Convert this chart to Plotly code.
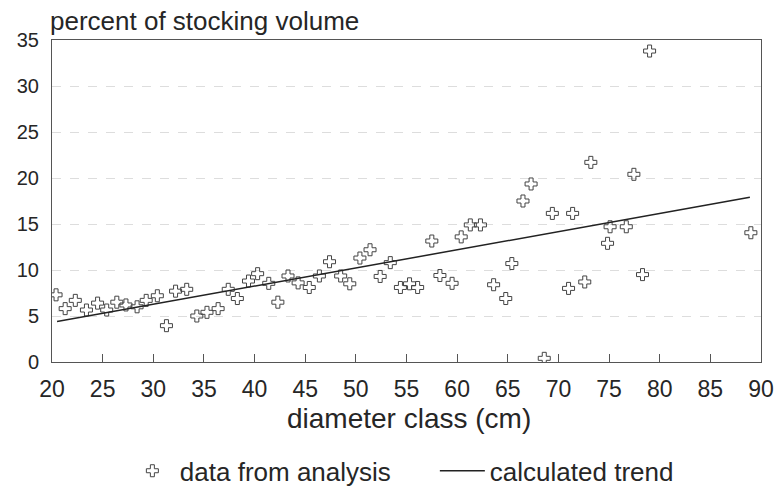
import plotly.graph_objects as go

# data
diameter = [20.4, 21.3, 22.3, 23.4, 24.5, 25.4, 26.4, 27.3, 28.4, 29.3, 30.4, 31.3, 32.2, 33.3,
            34.3, 35.3, 36.4, 37.4, 38.3, 39.4, 40.3, 41.4, 42.3, 43.3, 44.3,
            45.4, 46.4, 47.4, 48.5, 49.4, 50.4, 51.4, 52.4, 53.4, 54.4, 55.3, 56.1, 57.5,
            58.3, 59.5, 60.4, 61.3, 62.3, 63.6, 64.8, 65.4, 66.5, 67.3,
            68.6, 69.4, 71.0, 71.4, 72.6, 73.2, 74.85, 75.1, 76.7, 77.45, 78.3, 79.0, 89.0]
percent = [7.3, 5.8, 6.7, 5.65, 6.4, 5.65, 6.5, 6.2, 6.0, 6.7, 7.2, 3.95, 7.7, 7.9,
           5.0, 5.4, 5.8, 7.9, 6.9, 8.8, 9.6, 8.55, 6.5, 9.35, 8.6,
           8.1, 9.35, 10.9, 9.35, 8.5, 11.3, 12.2, 9.3, 10.8, 8.1, 8.5, 8.1, 13.15,
           9.4, 8.55, 13.6, 14.9, 14.9, 8.4, 6.9, 10.7, 17.5, 19.35,
           0.4, 16.15, 8.0, 16.15, 8.7, 21.7, 12.9, 14.7, 14.7, 20.4, 9.5, 33.8, 14.05]
trend_x = [20.5, 88.9]
trend_y = [4.4, 17.9]

x_ticks = [20, 25, 30, 35, 40, 45, 50, 55, 60, 65, 70, 75, 80, 85, 90]
y_ticks = [0, 5, 10, 15, 20, 25, 30, 35]

INK = "#262626"
FONT = "Liberation Sans, Arial, sans-serif"

fig = go.Figure()
fig.add_trace(go.Scatter(
    x=diameter, y=percent, mode="markers", name="data from analysis",
    marker=dict(symbol="cross-open", size=10, color="#444444", line=dict(width=1, color="#444444")),
))
fig.add_trace(go.Scatter(
    x=trend_x, y=trend_y, mode="lines", name="calculated trend",
    line=dict(color="#222222", width=1.5),
))

fig.update_layout(
    width=778, height=494,
    margin=dict(l=52, r=17, t=40, b=132, autoexpand=False),
    paper_bgcolor="white", plot_bgcolor="white",
    font=dict(family=FONT, color=INK),
    showlegend=True,
    legend=dict(orientation="h", x=0.54, xanchor="center", y=-0.338, yanchor="middle",
                font=dict(size=26, color=INK), itemwidth=45, entrywidth=250,
                bgcolor="rgba(0,0,0,0)"),
    xaxis=dict(range=[20, 90], tickvals=x_ticks, ticks="inside", ticklen=8, tickcolor="#555555",
               showline=True, linecolor="#555555", linewidth=1, mirror=True,
               showgrid=False, zeroline=False,
               tickfont=dict(size=23, family=FONT, color=INK), ticklabelstandoff=6),
    yaxis=dict(range=[0, 35], tickvals=y_ticks, ticks="",
               showline=True, linecolor="#555555", linewidth=1, mirror=True,
               showgrid=True, gridcolor="#dddddd", griddash="dash", gridwidth=1,
               zeroline=False,
               tickfont=dict(size=20, family=FONT, color=INK), ticklabelstandoff=8),
    annotations=[
        dict(text="percent of stocking volume", xref="paper", yref="paper",
             x=-0.006, y=1.059, xanchor="left", yanchor="middle", showarrow=False,
             font=dict(size=26, family=FONT, color=INK)),
        dict(text="diameter class (cm)", xref="paper", yref="paper",
             x=0.5035, y=-0.174, xanchor="center", yanchor="middle", showarrow=False,
             font=dict(size=28, family=FONT, color=INK)),
    ],
)

fig.write_html("out.html")
